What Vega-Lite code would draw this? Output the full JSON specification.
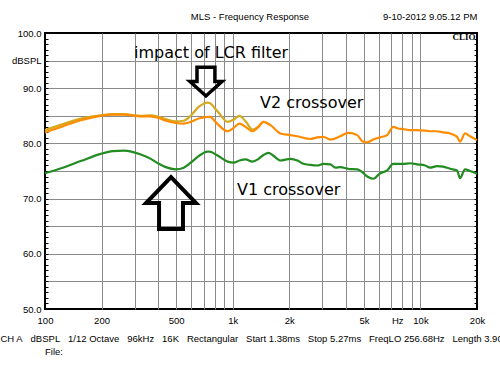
{
  "$schema": "https://vega.github.io/schema/vega-lite/v6.json",
  "width": 432,
  "height": 276,
  "autosize": "none",
  "padding": {"left": 45, "top": 33, "right": 23, "bottom": 66},
  "background": "white",
  "title": {"text": "File:", "orient": "bottom", "anchor": "start", "frame": "group", "offset": 4, "font": "Liberation Sans", "fontSize": 9.5, "fontWeight": "normal", "color": "black"},
  "config": {"view": {"stroke": "black", "strokeWidth": 2}},
  "datasets": {
    "v2": [
      {"f":100,"db":82.0},{"f":122,"db":83.0},{"f":155,"db":84.2},{"f":198,"db":85.0},{"f":230,"db":85.2},{"f":263,"db":85.2},{"f":324,"db":84.9},{"f":366,"db":84.9},{"f":404,"db":84.6},{"f":440,"db":84.1},{"f":497,"db":83.7},{"f":548,"db":83.6},{"f":597,"db":83.9},{"f":658,"db":84.5},{"f":735,"db":84.8},{"f":753,"db":84.8},{"f":830,"db":83.5},{"f":939,"db":82.2},{"f":1010,"db":82.8},{"f":1087,"db":83.6},{"f":1170,"db":83.0},{"f":1274,"db":82.2},{"f":1372,"db":83.0},{"f":1458,"db":83.9},{"f":1589,"db":83.3},{"f":1796,"db":81.8},{"f":2029,"db":81.5},{"f":2210,"db":81.3},{"f":2591,"db":80.8},{"f":2823,"db":81.1},{"f":3038,"db":81.2},{"f":3310,"db":80.7},{"f":3741,"db":81.3},{"f":4126,"db":81.9},{"f":4606,"db":81.5},{"f":4896,"db":80.4},{"f":5204,"db":80.2},{"f":5603,"db":80.7},{"f":6104,"db":81.1},{"f":6648,"db":81.5},{"f":7154,"db":83.0},{"f":7607,"db":82.7},{"f":8086,"db":82.6},{"f":8810,"db":82.4},{"f":9597,"db":82.4},{"f":10583,"db":82.3},{"f":11250,"db":82.2},{"f":12261,"db":82.2},{"f":13195,"db":82.0},{"f":14370,"db":81.8},{"f":14910,"db":81.6},{"f":15654,"db":81.2},{"f":16240,"db":80.3},{"f":17270,"db":81.8},{"f":18350,"db":81.3},{"f":20000,"db":80.6}
    ],
    "lcr": [
      {"f":100,"db":82.4},{"f":122,"db":83.4},{"f":155,"db":84.5},{"f":198,"db":85.1},{"f":230,"db":85.3},{"f":263,"db":85.3},{"f":324,"db":85.0},{"f":366,"db":85.1},{"f":404,"db":84.8},{"f":440,"db":84.4},{"f":497,"db":84.0},{"f":548,"db":84.1},{"f":597,"db":85.0},{"f":658,"db":86.6},{"f":735,"db":87.4},{"f":753,"db":87.3},{"f":830,"db":85.8},{"f":939,"db":83.9},{"f":1010,"db":84.3},{"f":1087,"db":85.0},{"f":1170,"db":84.0},{"f":1274,"db":82.5},{"f":1372,"db":83.1},{"f":1458,"db":83.9},{"f":1589,"db":83.3}
    ],
    "v1": [
      {"f":100,"db":74.6},{"f":122,"db":75.5},{"f":155,"db":76.8},{"f":198,"db":78.1},{"f":230,"db":78.6},{"f":263,"db":78.7},{"f":324,"db":78.0},{"f":366,"db":77.2},{"f":404,"db":76.3},{"f":440,"db":75.7},{"f":497,"db":75.3},{"f":548,"db":75.6},{"f":597,"db":76.5},{"f":658,"db":77.7},{"f":735,"db":78.5},{"f":753,"db":78.5},{"f":830,"db":77.8},{"f":939,"db":76.7},{"f":1010,"db":76.5},{"f":1087,"db":76.9},{"f":1170,"db":77.1},{"f":1274,"db":76.7},{"f":1372,"db":77.2},{"f":1458,"db":77.9},{"f":1549,"db":78.3},{"f":1640,"db":77.8},{"f":1796,"db":76.9},{"f":2029,"db":77.2},{"f":2210,"db":76.9},{"f":2379,"db":76.3},{"f":2591,"db":76.1},{"f":2823,"db":76.0},{"f":3038,"db":76.3},{"f":3310,"db":76.2},{"f":3520,"db":75.6},{"f":3741,"db":75.7},{"f":4126,"db":75.4},{"f":4606,"db":75.3},{"f":4896,"db":74.8},{"f":5204,"db":74.0},{"f":5603,"db":73.6},{"f":6104,"db":74.6},{"f":6648,"db":75.1},{"f":7154,"db":76.3},{"f":8086,"db":76.3},{"f":8810,"db":76.4},{"f":9597,"db":76.2},{"f":10583,"db":76.0},{"f":11250,"db":75.6},{"f":12261,"db":75.9},{"f":13195,"db":75.8},{"f":14370,"db":75.4},{"f":15654,"db":75.1},{"f":16240,"db":73.7},{"f":17270,"db":75.3},{"f":18350,"db":75.0},{"f":20000,"db":74.5}
    ],
    "notes": [
      {"f":298,"db":95.4,"t":"impact of LCR filter"},
      {"f":1397,"db":86.36,"t":"V2 crossover"},
      {"f":1053,"db":70.65,"t":"V1 crossover"}
    ],
    "brand": [{"f":19630,"db":99.28,"t":"CLIO"}],
    "up": [{"f":469,"db":69.2}],
    "down": [{"f":720,"db":91.2}]
  },
  "encoding": {
    "x": {
      "field": "f", "type": "quantitative",
      "scale": {"type": "log", "domain": [100, 20000], "nice": false},
      "axis": {
        "values": [100,200,300,400,500,600,700,800,900,1000,2000,3000,4000,5000,6000,7000,8000,9000,10000,20000],
        "grid": true, "gridColor": "#8a8a8a", "gridWidth": 1,
        "gridOpacity": {"condition": {"test": "datum.value === 100 || datum.value === 20000", "value": 0}, "value": 1},
        "ticks": false, "domain": false,
        "labelExpr": "datum.value === 100 ? '100' : datum.value === 200 ? '200' : datum.value === 500 ? '500' : datum.value === 1000 ? '1k' : datum.value === 2000 ? '2k' : datum.value === 5000 ? '5k' : datum.value === 7000 ? 'Hz' : datum.value === 10000 ? '10k' : datum.value === 20000 ? '20k' : ''",
        "labelAlign": {"condition": {"test": "datum.value === 7000", "value": "left"}, "value": "center"},
        "labelFont": "Liberation Sans", "labelFontSize": 9.5, "labelColor": "black", "labelPadding": 6,
        "labelOverlap": false, "labelBound": false, "labelFlush": false,
        "title": "CH A\u00a0\u00a0\u00a0dBSPL\u00a0\u00a0\u00a01/12 Octave\u00a0\u00a0\u00a096kHz\u00a0\u00a0\u00a016K\u00a0\u00a0\u00a0Rectangular\u00a0\u00a0\u00a0Start 1.38ms\u00a0\u00a0\u00a0Stop 5.27ms\u00a0\u00a0\u00a0FreqLO 256.68Hz\u00a0\u00a0\u00a0Length 3.90ms",
        "titleX": -45, "titleY": 29, "titleAlign": "left", "titleBaseline": "middle",
        "titleFont": "Liberation Sans", "titleFontSize": 9.5, "titleFontWeight": "normal", "titleColor": "black", "titleLimit": 2000
      }
    }
  },
  "layer": [
    {
      "data": {"name": "lcr"},
      "mark": {"type": "line", "color": "#D4AA1E", "strokeWidth": 2.2, "interpolate": "monotone"},
      "encoding": {
        "y": {
          "field": "db", "type": "quantitative",
          "scale": {"domain": [50, 100], "nice": false, "zero": false},
          "axis": {
            "orient": "left",
            "values": [50,51,52,53,54,55,56,57,58,59,60,61,62,63,64,65,66,67,68,69,70,71,72,73,74,75,76,77,78,79,80,81,82,83,84,85,86,87,88,89,90,91,92,93,94,95,96,97,98,99,100],
            "grid": true, "gridColor": "#8a8a8a", "gridWidth": 1,
            "gridOpacity": {"condition": {"test": "datum.value % 5 === 0 && datum.value !== 50 && datum.value !== 100", "value": 1}, "value": 0},
            "ticks": true, "tickSize": -3, "tickColor": "black", "tickWidth": 1,
            "domain": false,
            "labelExpr": "datum.value === 95 ? 'dBSPL' : (datum.value % 10 === 0 ? format(datum.value, '.1f') : '')",
            "labelFont": "Liberation Sans", "labelFontSize": 9.5, "labelColor": "black", "labelPadding": 7,
            "labelOverlap": false, "labelBound": false, "labelFlush": false,
            "title": "MLS - Frequency Response",
            "titleAngle": 0, "titleX": 204.5, "titleY": -17, "titleAlign": "center", "titleBaseline": "middle",
            "titleFont": "Liberation Sans", "titleFontSize": 9.5, "titleFontWeight": "normal", "titleColor": "black", "titleLimit": 2000
          }
        }
      }
    },
    {
      "data": {"name": "v2"},
      "mark": {"type": "line", "color": "#FF8C00", "strokeWidth": 2.2, "interpolate": "monotone"},
      "encoding": {"y": {"field": "db", "type": "quantitative", "scale": {"domain": [50, 100], "nice": false, "zero": false}, "axis": null}}
    },
    {
      "data": {"name": "v1"},
      "mark": {"type": "line", "color": "#228B22", "strokeWidth": 2.2, "interpolate": "monotone"},
      "encoding": {"y": {"field": "db", "type": "quantitative", "scale": {"domain": [50, 100], "nice": false, "zero": false}, "axis": null}}
    },
    {
      "data": {"name": "up"},
      "mark": {"type": "point", "shape": "M0,-1 L0.96,0 L0.46,0 L0.46,1 L-0.46,1 L-0.46,0 L-0.96,0 Z", "size": 2704, "filled": false, "stroke": "black", "strokeWidth": 4, "opacity": 1, "strokeJoin": "miter"},
      "encoding": {"y": {"field": "db", "type": "quantitative", "scale": {"domain": [50, 100], "nice": false, "zero": false}, "axis": null}}
    },
    {
      "data": {"name": "down"},
      "mark": {"type": "point", "shape": "M-0.56,-0.9 L0.56,-0.9 L0.56,0 L1,0 L0,0.9 L-1,0 L-0.56,0 Z", "size": 1024, "filled": false, "stroke": "black", "strokeWidth": 3.5, "opacity": 1, "strokeJoin": "miter"},
      "encoding": {"y": {"field": "db", "type": "quantitative", "scale": {"domain": [50, 100], "nice": false, "zero": false}, "axis": null}}
    },
    {
      "data": {"name": "notes"},
      "mark": {"type": "text", "align": "left", "baseline": "alphabetic", "font": "DejaVu Sans", "fontSize": 16, "color": "black"},
      "encoding": {
        "y": {"field": "db", "type": "quantitative", "scale": {"domain": [50, 100], "nice": false, "zero": false}, "axis": null},
        "text": {"field": "t"}
      }
    },
    {
      "data": {"name": "brand"},
      "mark": {"type": "text", "align": "right", "baseline": "middle", "font": "Liberation Serif", "fontWeight": "bold", "fontSize": 9, "color": "black"},
      "encoding": {
        "y": {
          "field": "db", "type": "quantitative",
          "scale": {"domain": [50, 100], "nice": false, "zero": false},
          "axis": {
            "orient": "right",
            "values": [50,51,52,53,54,55,56,57,58,59,60,61,62,63,64,65,66,67,68,69,70,71,72,73,74,75,76,77,78,79,80,81,82,83,84,85,86,87,88,89,90,91,92,93,94,95,96,97,98,99,100],
            "grid": false, "labels": false, "domain": false,
            "ticks": true, "tickSize": -3, "tickColor": "black", "tickWidth": 1,
            "title": "9-10-2012 9.05.12 PM",
            "titleAngle": 0, "titleX": 0, "titleY": -17, "titleAlign": "right", "titleBaseline": "middle",
            "titleFont": "Liberation Sans", "titleFontSize": 9.5, "titleFontWeight": "normal", "titleColor": "black", "titleLimit": 2000
          }
        },
        "text": {"field": "t"}
      }
    }
  ],
  "resolve": {"axis": {"y": "independent"}}
}
